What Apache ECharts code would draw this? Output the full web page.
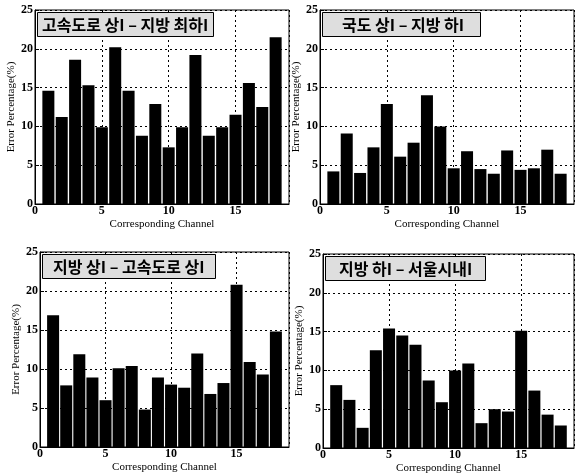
<!DOCTYPE html>
<html>
<head>
<meta charset="utf-8">
<script src="https://cdn.jsdelivr.net/npm/echarts@6/dist/echarts.min.js"></script>
<style>
  html, body { margin: 0; padding: 0; background: #fff; }
  #main { width: 578px; height: 475px; }
</style>
</head>
<body>
<div id="main"></div>
<script>
// channel numbers on the x axis
var channels = [1, 2, 3, 4, 5, 6, 7, 8, 9, 10, 11, 12, 13, 14, 15, 16, 17, 18];

// error percentage per channel, one array per panel
var highwayToRural = [14.6, 11.2, 18.6, 15.3, 9.9, 20.2, 14.6, 8.8, 12.9, 7.3, 9.9, 19.2, 8.8, 9.9, 11.5, 15.6, 12.5, 21.5];
var nationalToRural = [4.2, 9.1, 4.0, 7.3, 12.9, 6.1, 7.9, 14.0, 10.0, 4.6, 6.8, 4.5, 3.9, 6.9, 4.4, 4.6, 7.0, 3.9];
var ruralToHighway = [16.9, 7.9, 11.9, 8.9, 6.0, 10.1, 10.4, 4.8, 8.9, 8.0, 7.6, 12.0, 6.8, 8.2, 20.8, 10.9, 9.3, 14.8];
var ruralToSeoul = [8.1, 6.2, 2.6, 12.6, 15.4, 14.5, 13.3, 8.7, 5.9, 10.0, 10.9, 3.2, 5.0, 4.7, 15.1, 7.4, 4.3, 2.9];

var panelTitles = ['고속도로 상I – 지방 최하I', '국도 상I – 지방 하I', '지방 상I – 고속도로 상I', '지방 하I – 서울시내I'];
var panelData = [highwayToRural, nationalToRural, ruralToHighway, ruralToSeoul];

// plot boxes (left, top, right edge, bottom edge) in pixels
var boxes = [
  [35, 10, 289, 204],
  [320, 10, 574, 204],
  [40, 252, 289, 447],
  [323, 254, 574, 449]
];
// horizontal padding of each title box
var titlePad = [[5, 5], [20, 17], [11, 11], [14, 14]];

var serif = 'Liberation Serif';

var grids = [], xAxes = [], yAxes = [], series = [], titles = [];
boxes.forEach(function (b, i) {
  grids.push({
    left: b[0], top: b[1], width: b[2] - b[0], height: b[3] - b[1],
    show: true, borderColor: '#000', borderWidth: 1, backgroundColor: '#fff'
  });
  xAxes.push({
    gridIndex: i, type: 'value', min: 0, max: 19, interval: 5,
    name: 'Corresponding Channel', nameLocation: 'middle', nameGap: 15,
    nameTextStyle: { fontFamily: serif, fontSize: 11, color: '#000' },
    axisLine: { lineStyle: { color: '#000' } },
    axisTick: { inside: true, length: 4, lineStyle: { color: '#000' } },
    axisLabel: { fontFamily: serif, fontSize: 12, fontWeight: 'bold', color: '#000', margin: 1, showMaxLabel: false },
    splitLine: { show: true, lineStyle: { color: '#000', type: [2, 3], width: 1 } }
  });
  yAxes.push({
    gridIndex: i, type: 'value', min: 0, max: 25, interval: 5,
    name: 'Error Percentage(%)', nameLocation: 'middle', nameGap: 14,
    nameTextStyle: { fontFamily: serif, fontSize: 11, color: '#000' },
    axisLine: { lineStyle: { color: '#000' } },
    axisTick: { inside: true, length: 4, lineStyle: { color: '#000' } },
    axisLabel: { fontFamily: serif, fontSize: 12, fontWeight: 'bold', color: '#000', margin: 2 },
    splitLine: { show: true, lineStyle: { color: '#000', type: [2, 3], width: 1 } }
  });
  series.push({
    type: 'bar', xAxisIndex: i, yAxisIndex: i, barWidth: 12,
    itemStyle: { color: '#000' },
    data: channels.map(function (c, k) { return [c, panelData[i][k]]; })
  });
  titles.push({
    text: panelTitles[i], left: b[0] + 2, top: b[1] + 2,
    backgroundColor: '#dedede', borderColor: '#000', borderWidth: 1,
    padding: [5, titlePad[i][1], 4, titlePad[i][0]],
    textStyle: { fontFamily: 'Noto Sans CJK KR', fontSize: 16, fontWeight: 'bold', color: '#000' }
  });
});

var chart = echarts.init(document.getElementById('main'));
chart.setOption({
  animation: false,
  title: titles,
  grid: grids,
  xAxis: xAxes,
  yAxis: yAxes,
  series: series
});
</script>
</body>
</html>
